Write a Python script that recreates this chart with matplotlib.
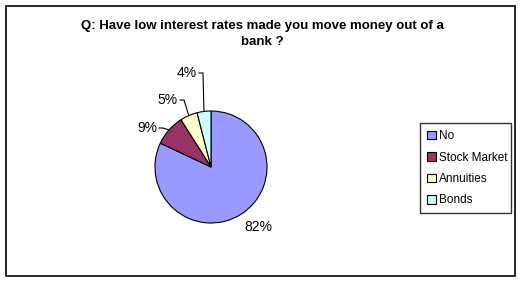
import numpy as np
import matplotlib
matplotlib.use("Agg")
import matplotlib.pyplot as plt
from matplotlib.patches import Rectangle

# survey answers
categories = ['No', 'Stock Market', 'Annuities', 'Bonds']
shares = [82, 9, 5, 4]
colors = ['#9999FF', '#993366', '#FFFFCC', '#CCFFFF']
title = 'Q: Have low interest rates made you move money out of a\nbank ?'

plt.rcParams['font.family'] = ['Liberation Sans', 'DejaVu Sans']

W, H = 522, 282
fig = plt.figure(figsize=(W / 100, H / 100), dpi=100)
ax = fig.add_axes([0, 0, 1, 1])

# outer chart frame
ax.add_patch(Rectangle((6, 6), 509, 270, fill=False, edgecolor='black', lw=1.2))

ax.text(262, 34, title, ha='center', va='center', fontsize=9.5,
        fontweight='bold', linespacing=1.45)

# pie: center and radius in pixel coords (y points down)
cx, cy, r = 211, 167, 56
wedges, _ = ax.pie(shares, colors=colors, startangle=-90, counterclock=True,
                   center=(cx, cy), radius=r, frame=True,
                   wedgeprops=dict(edgecolor='black', linewidth=0.8))
ax.set_xlim(0, W)
ax.set_ylim(H, 0)
ax.set_aspect('equal')
ax.axis('off')

# label placement (text centre) per slice
label_pos = [(258, 227), (147, 128), (168, 100), (187, 73)]
leader = [False, True, True, True]

cum = np.cumsum([0] + shares)
for i, (v, (lx, ly)) in enumerate(zip(shares, label_pos)):
    mid = 90 - 360 * (cum[i] + v / 2) / 100.0
    ax.text(lx, ly, f'{v}%', ha='center', va='center', fontsize=10)
    if leader[i]:
        ex = cx + r * np.cos(np.radians(mid))
        ey = cy - r * np.sin(np.radians(mid))
        x0 = lx + 12
        ax.plot([x0, x0 + 4, ex], [ly, ly, ey], color='black', lw=0.8)

leg = ax.legend(wedges, categories, loc='upper left',
                bbox_to_anchor=(420 / W, 1 - 210 / H, 91 / W, 87 / H),
                bbox_transform=fig.transFigure, mode='expand',
                fontsize=8.5, frameon=True, fancybox=False, edgecolor='black',
                handlelength=0.75, handleheight=0.75, handletextpad=0.25,
                labelspacing=0.8, borderpad=0.6, borderaxespad=0)
leg.get_frame().set_linewidth(1.0)

fig.savefig('out.png', dpi=100)
